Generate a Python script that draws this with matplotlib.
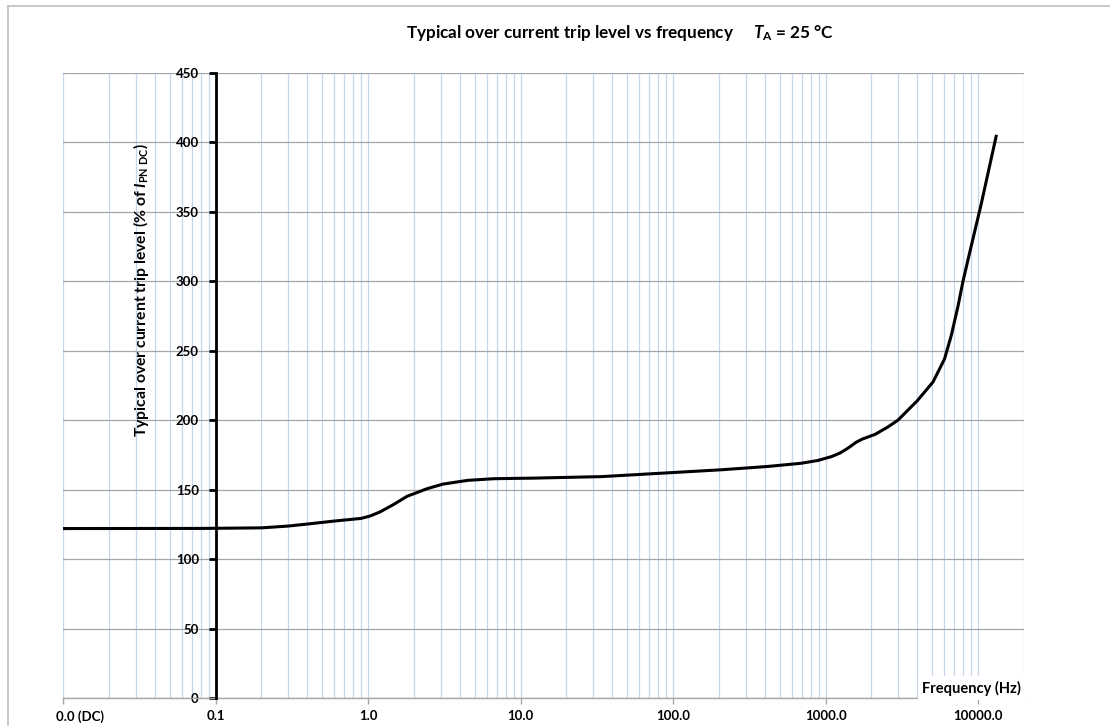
import matplotlib
matplotlib.use("Agg")
import matplotlib.pyplot as plt, numpy as np
from matplotlib.ticker import FixedLocator, LogLocator, NullFormatter
from matplotlib.transforms import ScaledTranslation
from matplotlib.lines import Line2D

plt.rcParams['font.family'] = ['Lato', 'DejaVu Sans']
plt.rcParams['font.weight'] = 'bold'
plt.rcParams['mathtext.fontset'] = 'custom'
plt.rcParams['mathtext.it'] = 'Lato:italic:bold'
plt.rcParams['mathtext.rm'] = 'Lato:bold'
plt.rcParams['mathtext.bf'] = 'Lato:bold'

# data
freq  = [0.01, 0.08, 0.2, 0.3, 0.42, 0.6, 0.9, 1.03, 1.2, 1.47, 1.8, 2.44, 3.1,
         4.5, 6.7, 12, 34, 206, 417, 690, 889, 1093, 1250, 1416, 1580, 1730,
         2110, 2550, 2980, 3990, 5060, 6020, 6670, 7380, 7960, 8800, 10500, 13200]
level = [122.0, 122.1, 122.5, 123.8, 125.5, 127.4, 129.3, 131, 134, 139.3, 145.2,
         150.7, 154, 156.7, 157.9, 158.3, 159.4, 164.3, 166.7, 169, 171, 173.8,
         176.5, 180.2, 184, 186.3, 189.8, 195, 200, 214, 227.5, 244, 261, 282,
         300, 320.5, 356, 405.5]

xticks      = [0.01, 0.1, 1, 10, 100, 1000, 10000]
xticklabels = ['0.0 (DC)', '0.1', '1.0', '10.0', '100.0', '1000.0', '10000.0']
yticks      = list(range(0, 451, 50))

W, H = 1110, 726
fig = plt.figure(figsize=(W/100, H/100), dpi=100)
ax = fig.add_axes([63/W, 1-698/H, (1024-63)/W, (698-73)/H])

ax.set_xscale('log')
ax.set_xlim(0.01, 20000)
ax.set_ylim(0, 450)

ax.xaxis.set_major_locator(FixedLocator(xticks))
ax.set_xticklabels(xticklabels)
ax.xaxis.set_minor_locator(LogLocator(base=10, subs=np.arange(2, 10), numticks=20))
ax.xaxis.set_minor_formatter(NullFormatter())
ax.set_yticks(yticks)

ax.grid(True, axis='x', which='both', color='#c6d6ef', lw=0.9)
ax.grid(True, axis='y', which='major', color='#a6a6a6', lw=0.9)
ax.set_axisbelow(True)

for s in ['top', 'right']:
    ax.spines[s].set_visible(False)
ax.spines['bottom'].set_color('#a6a6a6')
ax.spines['bottom'].set_linewidth(1)
ax.spines['left'].set_position(('data', 0.1))
ax.spines['left'].set_linewidth(2)
ax.spines['left'].set_color('black')
ax.spines['left'].set_zorder(3)

ax.tick_params(axis='x', which='major', length=4, width=1, color='#a6a6a6',
               labelsize=9.5, pad=5)
ax.tick_params(axis='x', which='minor', length=0)
ax.tick_params(axis='y', length=5, width=2, color='black', labelsize=9.5, pad=7)

# the first label sits a little right of its tick, like the original
lbl = ax.get_xticklabels()[0]
lbl.set_transform(lbl.get_transform() + ScaledTranslation(17/100, 0, fig.dpi_scale_trans))

ax.plot(freq, level, color='black', lw=2.2, zorder=4, solid_capstyle='butt')

ax.text(1021/W, 1-688/H, 'Frequency (Hz)', transform=fig.transFigure, ha='right',
        va='center', fontsize=10.5, fontweight='bold', zorder=5,
        bbox=dict(facecolor='white', edgecolor='none', pad=3))

fig.text(141/W, 1-290/H, 'Typical over current trip level (% of $I_{\\rm PN\\ DC}$)',
         rotation=90, ha='center', va='center', fontsize=11.3, fontweight='bold')

fig.text(620/W, 1-33/H, 'Typical over current trip level vs frequency     $T_{\\rm A}$ = 25 °C',
         ha='center', va='center', fontsize=12.3, fontweight='bold')

# outer chart frame
fig.add_artist(Line2D([8/W, 1], [1-6/H, 1-6/H], transform=fig.transFigure, color='#c0c0c0', lw=1.2))
fig.add_artist(Line2D([8/W, 8/W], [0, 1-6/H], transform=fig.transFigure, color='#c0c0c0', lw=1.2))

fig.savefig('out.png', dpi=100)
